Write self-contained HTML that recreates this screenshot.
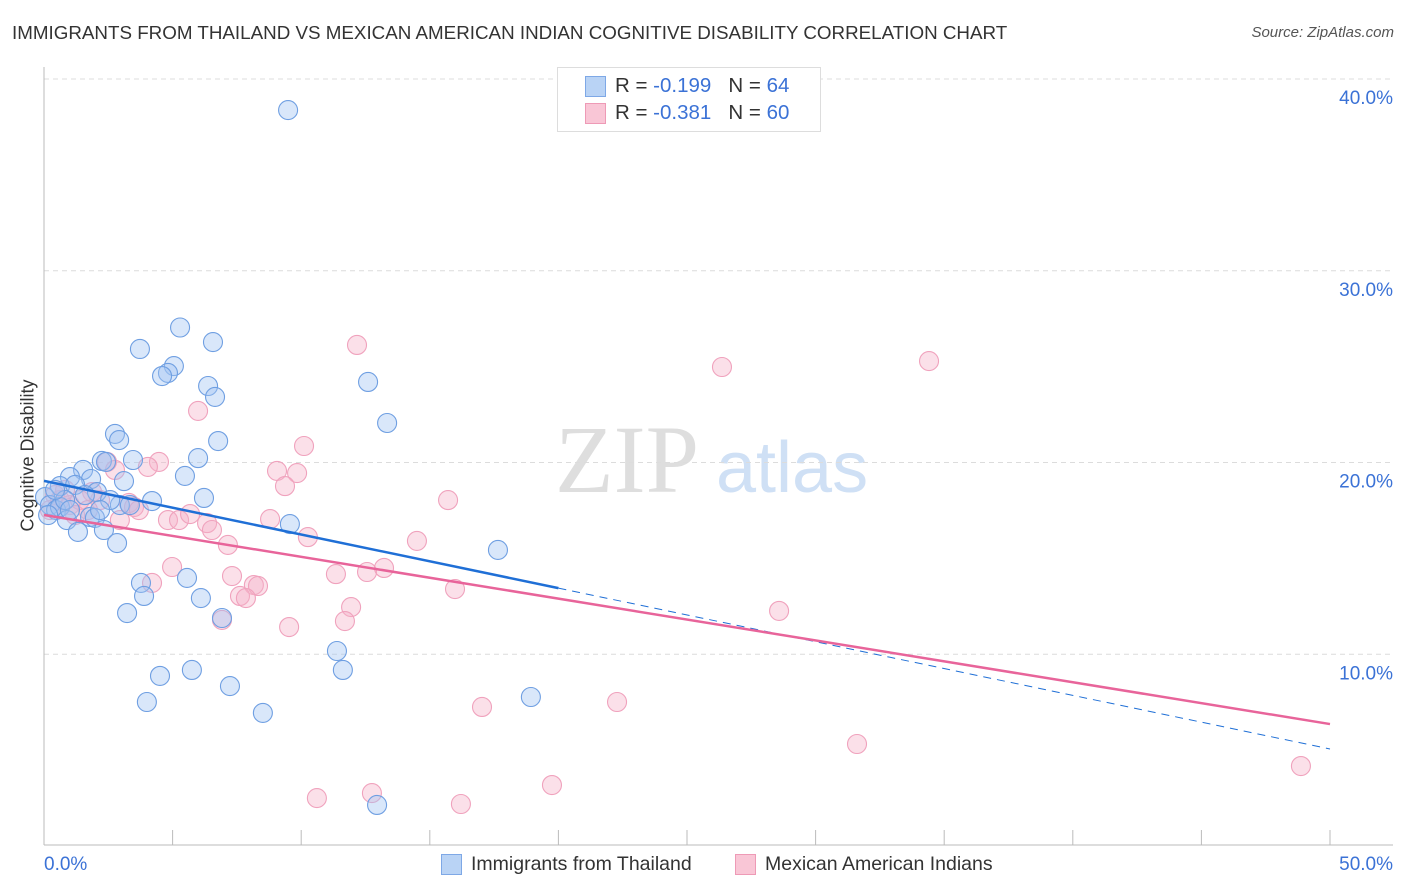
<!DOCTYPE html>
<html><head><meta charset="utf-8"><style>
body{margin:0;background:#fff;font-family:"Liberation Sans",sans-serif;}
#wrap{position:relative;width:1406px;height:892px;overflow:hidden;}
.t{position:absolute;white-space:nowrap;}
</style></head><body>
<div id="wrap">
<div class="t" style="left:12px;top:22px;font-size:18.8px;color:#333;">IMMIGRANTS FROM THAILAND VS MEXICAN AMERICAN INDIAN COGNITIVE DISABILITY CORRELATION CHART</div>
<div class="t" style="right:12px;top:24px;font-size:15px;color:#555;font-style:italic;">Source: ZipAtlas.com</div>
<div class="t" style="left:-52px;top:445px;font-size:18px;color:#333;transform:rotate(-90deg);width:160px;text-align:center;">Cognitive Disability</div>
<svg id="chart" width="1406" height="892" style="position:absolute;left:0;top:0">
<text x="555" y="492" font-family="Liberation Serif" font-size="96" fill="#dedede">ZIP</text>
<text x="716" y="492" font-family="Liberation Sans" font-size="72" fill="#cfe0f5">atlas</text>
</svg>
<div style="position:absolute;left:557px;top:67px;width:262px;height:63px;border:1px solid #ddd;background:#fff;">
<div style="position:absolute;left:27px;top:8px;width:19px;height:19px;background:#b9d3f5;border:1px solid #7ea8e6;"></div>
<div style="position:absolute;left:27px;top:35px;width:19px;height:19px;background:#f9c6d6;border:1px solid #ee9ab6;"></div>
<div class="t" style="left:57px;top:6px;font-size:20.5px;color:#333;">R = <span style="color:#3b72d6">-0.199</span>&nbsp;&nbsp;&nbsp;N = <span style="color:#3b72d6">64</span></div>
<div class="t" style="left:57px;top:33px;font-size:20.5px;color:#333;">R = <span style="color:#3b72d6">-0.381</span>&nbsp;&nbsp;&nbsp;N = <span style="color:#3b72d6">60</span></div>
</div>
<div style="position:absolute;left:441px;top:854px;width:19px;height:19px;background:#b9d3f5;border:1px solid #7ea8e6;"></div>
<div class="t" style="left:471px;top:853px;font-size:19.5px;color:#333;">Immigrants from Thailand</div>
<div style="position:absolute;left:735px;top:854px;width:19px;height:19px;background:#f9c6d6;border:1px solid #ee9ab6;"></div>
<div class="t" style="left:765px;top:853px;font-size:19.5px;color:#333;">Mexican American Indians</div>
</div>
<script>
const yTicks=[10,20,30,40];
const yTickLabels=["10.0%","20.0%","30.0%","40.0%"];
const xTickLabels=["0.0%","50.0%"];
const blueX=[9.49,5.29,6.57,3.73,5.05,4.82,4.59,6.38,6.65,12.60,13.34,2.76,2.92,6.77,5.99,2.25,2.41,3.46,5.48,1.52,1.01,1.83,0.62,1.21,2.06,3.11,6.22,4.20,9.56,0.04,0.23,0.47,0.62,0.16,0.89,1.79,1.98,1.32,2.33,2.84,17.65,3.77,3.89,5.56,6.10,3.23,6.92,11.39,11.62,4.51,5.75,7.23,4.00,8.51,18.93,12.95,2.95,2.57,1.59,0.82,0.43,2.18,3.34,1.01];
const blueY=[38.38,27.04,26.28,25.92,25.03,24.67,24.51,23.99,23.42,24.20,22.06,21.49,21.17,21.12,20.23,20.08,20.03,20.13,19.30,19.61,19.24,19.14,18.77,18.83,18.46,19.03,18.15,17.99,16.79,18.20,17.78,17.52,17.68,17.26,17.00,17.16,17.11,16.38,16.48,15.80,15.44,13.72,13.04,13.98,12.93,12.15,11.89,10.17,9.18,8.87,9.18,8.34,7.51,6.94,7.77,2.14,17.78,18.04,18.30,18.04,18.57,17.52,17.78,17.52];
const pinkX=[12.17,26.36,34.41,5.99,10.11,4.47,4.04,9.06,9.84,9.37,15.71,2.45,2.76,1.87,3.30,3.50,3.69,2.95,4.82,5.25,5.68,6.34,6.53,8.79,10.26,14.50,7.15,4.98,7.31,11.35,12.56,13.22,4.20,8.16,8.32,7.62,7.85,15.98,11.94,11.70,6.92,9.53,28.58,17.03,22.28,31.61,48.87,10.61,12.75,16.21,19.75,0.43,0.62,1.01,1.40,0.23,0.82,2.18,1.21,1.71];
const pinkY=[26.13,24.98,25.29,22.69,20.86,20.03,19.77,19.56,19.45,18.77,18.04,20.03,19.61,18.46,17.89,17.68,17.52,17.00,17.00,17.00,17.31,16.84,16.48,17.05,16.11,15.91,15.70,14.55,14.08,14.18,14.29,14.50,13.72,13.61,13.56,13.04,12.93,13.40,12.46,11.73,11.79,11.42,12.26,7.25,7.51,5.32,4.17,2.50,2.76,2.19,3.18,18.30,18.04,17.78,18.04,17.52,18.57,18.04,17.26,17.52];
const blueTrend=[19.04,5.06];
const pinkTrend=[17.26,6.36];
const blueSolidEnd=20;
const NS="http://www.w3.org/2000/svg";
const svg=document.getElementById('chart');
const X=v=>44+v/50*1286;
const Y=v=>846-v*19.175;
function mk(tag,attrs){const e=document.createElementNS(NS,tag);for(const k in attrs)e.setAttribute(k,attrs[k]);svg.appendChild(e);return e;}
yTicks.forEach((t,i)=>{
 const g=mk('line',{x1:44,x2:1393,y1:Y(t),y2:Y(t),stroke:'#dcdcdc','stroke-dasharray':'5,4'});
 
 
 const l=mk('text',{x:1393,y:Y(t)+25,'text-anchor':'end','font-size':19,fill:'#3b72d6','font-family':'Liberation Sans'});
 l.textContent=yTickLabels[i];
 
 
});
const ax=mk('line',{x1:44,x2:1393,y1:845,y2:845,stroke:'#bbb'});


const ay=mk('line',{x1:44,x2:44,y1:67,y2:845,stroke:'#bbb'});


for(let v=5;v<=50;v+=5){
 const tk=mk('line',{x1:X(v),x2:X(v),y1:830,y2:845,stroke:'#bbb'});
 
 
}
const xl0=mk('text',{x:44,y:870,'font-size':19,fill:'#3b72d6','font-family':'Liberation Sans'});
xl0.textContent=xTickLabels[0];


const xl1=mk('text',{x:1393,y:870,'text-anchor':'end','font-size':19,fill:'#3b72d6','font-family':'Liberation Sans'});
xl1.textContent=xTickLabels[1];


function pts(xs,ys,fill,stroke,name){xs.forEach((x,i)=>{
 const c=mk('circle',{cx:X(x),cy:Y(ys[i]),r:9.5,fill:fill,stroke:stroke,'stroke-width':1.1});
 
 
});}
pts(pinkX,pinkY,'rgba(246,178,200,0.4)','#f0a2bd','point-mexican');
pts(blueX,blueY,'rgba(160,196,242,0.4)','#6f9fe2','point-thailand');
const bAt=x=>blueTrend[0]+(blueTrend[1]-blueTrend[0])*x/50;
const pAt=x=>pinkTrend[0]+(pinkTrend[1]-pinkTrend[0])*x/50;
const bl=mk('line',{x1:X(0),y1:Y(bAt(0)),x2:X(blueSolidEnd),y2:Y(bAt(blueSolidEnd)),stroke:'#1f6fd6','stroke-width':2.5});


const bd=mk('line',{x1:X(blueSolidEnd),y1:Y(bAt(blueSolidEnd)),x2:X(50),y2:Y(bAt(50)),stroke:'#1f6fd6','stroke-width':1,'stroke-dasharray':'8,6'});


const pl=mk('line',{x1:X(0),y1:Y(pAt(0)),x2:X(50),y2:Y(pAt(50)),stroke:'#e8649a','stroke-width':2.5});


</script>
</body></html>
